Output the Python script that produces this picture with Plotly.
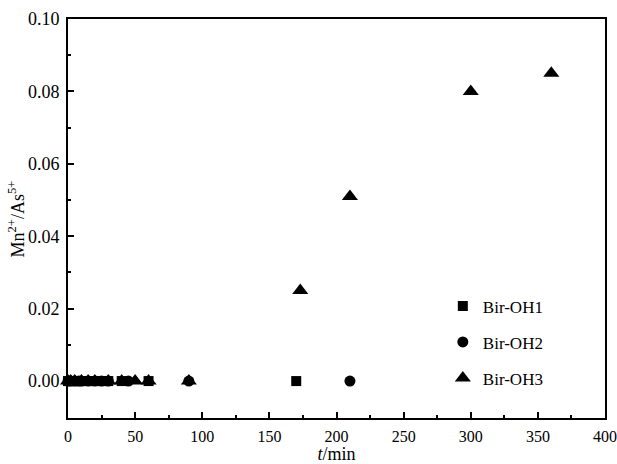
import plotly.graph_objects as go

# Mn2+/As5+ ratio versus reaction time for three birnessite samples
t_oh1 = [0, 2, 5, 8, 10, 15, 20, 25, 30, 40, 60, 170]
r_oh1 = [0, 0, 0, 0, 0, 0, 0, 0, 0, 0, 0, 0]

t_oh2 = [0, 2, 5, 8, 10, 15, 20, 25, 30, 45, 90, 210]
r_oh2 = [0, 0, 0, 0, 0, 0, 0, 0, 0, 0, 0, 0]

t_oh3 = [0, 2, 5, 10, 15, 20, 30, 40, 50, 60, 90, 173, 210, 300, 360]
r_oh3 = [0, 0, 0, 0, 0, 0, 0, 0, 0, 0, 0, 0.025, 0.051, 0.080, 0.085]

FONT = "Liberation Serif, Times New Roman, serif"

fig = go.Figure()
fig.add_trace(go.Scatter(x=t_oh1, y=r_oh1, mode="markers", name="Bir-OH1",
                         legendgroup="a", cliponaxis=False,
                         marker=dict(symbol="square", size=10, color="black")))
fig.add_trace(go.Scatter(x=t_oh2, y=r_oh2, mode="markers", name="Bir-OH2",
                         legendgroup="b", cliponaxis=False,
                         marker=dict(symbol="circle", size=11, color="black")))
fig.add_trace(go.Scatter(x=t_oh3, y=r_oh3, mode="markers", name="Bir-OH3",
                         legendgroup="c", cliponaxis=False,
                         marker=dict(symbol="triangle-up", size=14, color="black")))

axis_common = dict(
    showline=True, linecolor="black", linewidth=2, mirror=True,
    ticks="inside", ticklen=6, tickwidth=1.5, tickcolor="black",
    showgrid=False, zeroline=False, automargin=False,
    ticklabeloverflow="allow",
)

fig.update_xaxes(
    range=[0, 400], tick0=0, dtick=50,
    minor=dict(ticks="inside", ticklen=3, tickwidth=1.5, tickcolor="black", dtick=25),
    ticklabelstandoff=3,
    tickfont=dict(family=FONT, size=16, color="black"),
    title=dict(text="<i>t</i>/min", font=dict(family=FONT, size=18, color="black"),
               standoff=5),
    **axis_common,
)
fig.update_yaxes(
    range=[-0.0102, 0.1], tick0=0, dtick=0.02, tickformat=".2f",
    minor=dict(ticks="inside", ticklen=3, tickwidth=1.5, tickcolor="black", dtick=0.01),
    ticklabelstandoff=3,
    tickfont=dict(family=FONT, size=18, color="black"),
    **axis_common,
)

# y-axis title placed as a rotated annotation so it sits close to the tick labels
fig.add_annotation(
    text="Mn<sup>2+</sup>/As<sup>5+</sup>", textangle=-90,
    xref="paper", yref="paper", x=-0.095, y=0.50,
    xanchor="center", yanchor="middle", showarrow=False,
    font=dict(family=FONT, size=18, color="black"),
)

fig.update_layout(
    width=617, height=464,
    margin=dict(l=68, r=12, t=19, b=46, autoexpand=False),
    paper_bgcolor="white", plot_bgcolor="white",
    font=dict(family=FONT, color="black"),
    legend=dict(
        x=0.698, y=0.325, xanchor="left", yanchor="top",
        bgcolor="rgba(0,0,0,0)", borderwidth=0,
        font=dict(family=FONT, size=17, color="black"),
        traceorder="grouped", tracegroupgap=11, itemwidth=30,
    ),
)

fig.write_html("out.html")
